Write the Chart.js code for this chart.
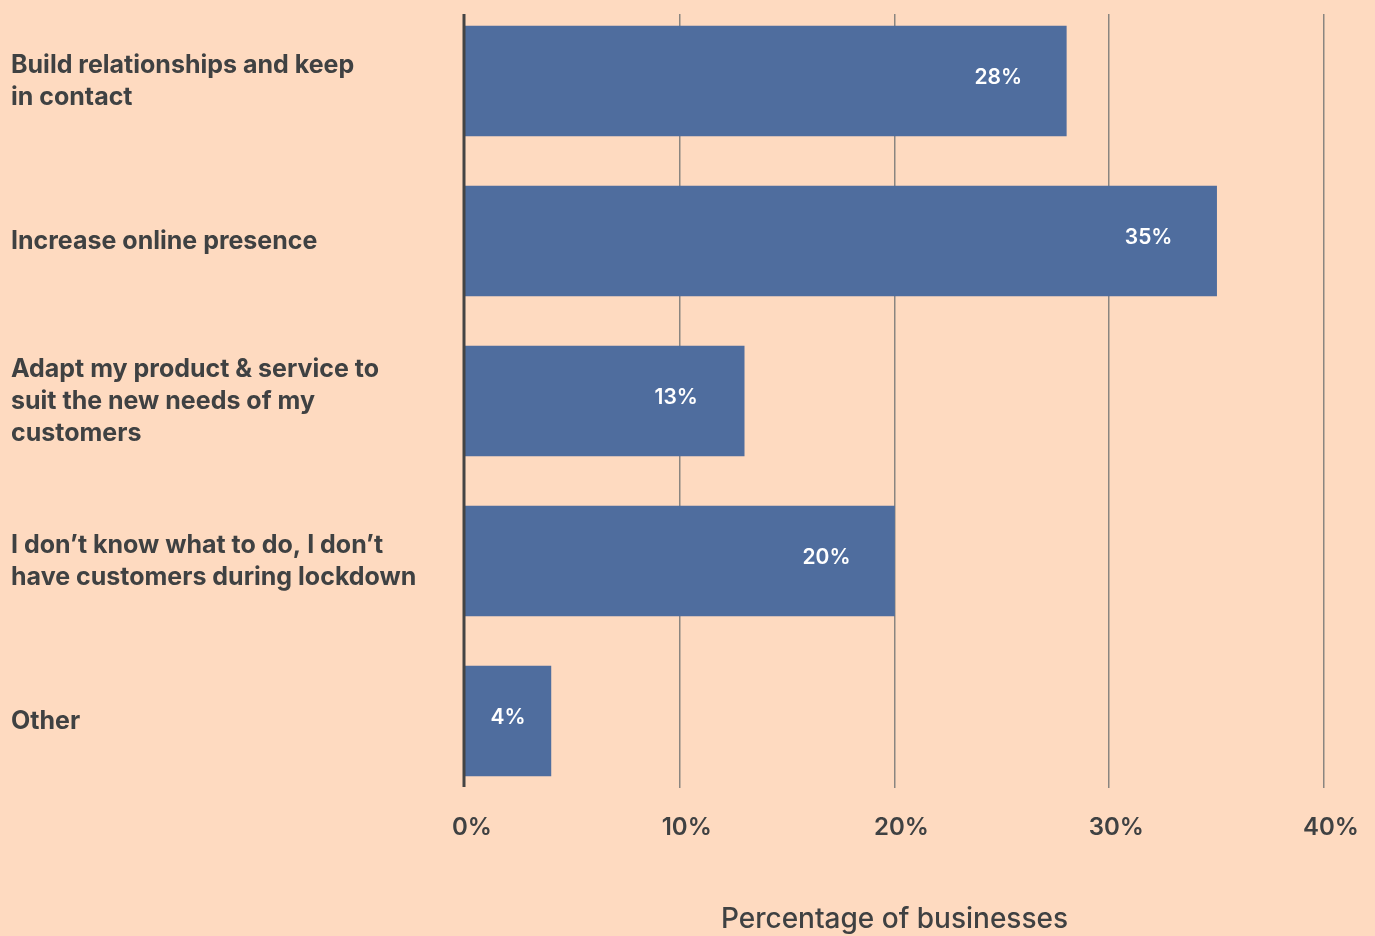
<!DOCTYPE html>
<html>
<head>
<meta charset="utf-8">
<script src="https://cdn.jsdelivr.net/npm/chart.js@4/dist/chart.umd.min.js"></script>
<style>
  html, body { margin: 0; padding: 0; background: #FEDAC0; }
  #wrap { width: 1375px; height: 936px; position: relative; }
</style>
</head>
<body>
<div id="wrap"><canvas id="c" width="1375" height="936"></canvas></div>
<script>
// Survey answers and their share of businesses (%)
const answers = [
  ["Build relationships and keep", "in contact"],
  ["Increase online presence"],
  ["Adapt my product & service to", "suit the new needs of my", "customers"],
  ["I don’t know what to do, I don’t", "have customers during lockdown"],
  ["Other"]
];
const shares = [28, 35, 13, 20, 4];
const percentTicks = [0, 10, 20, 30, 40];
const axisTitle = "Percentage of businesses";

const TEXT = "#3F4142";
const BAR = "#4F6D9E";
const FONT = "Inter, 'Open Sans', sans-serif";

// Vertical guide lines drawn from the x scale; the zero line sits on top of the bars
const guideLines = {
  id: "guideLines",
  beforeDatasetsDraw(chart) {
    const { ctx, chartArea: a, scales: { x } } = chart;
    ctx.save();
    ctx.strokeStyle = "#8A8580";
    ctx.lineWidth = 1.5;
    percentTicks.forEach(v => {
      if (v === 0) return;
      const px = Math.round(x.getPixelForValue(v)) - 0.25;
      ctx.beginPath();
      ctx.moveTo(px, a.top + 13);
      ctx.lineTo(px, a.bottom - 13);
      ctx.stroke();
    });
    ctx.restore();
  },
  afterDatasetsDraw(chart) {
    const { ctx, chartArea: a, scales: { x } } = chart;
    const px = x.getPixelForValue(0) - 1;
    ctx.save();
    ctx.strokeStyle = "#444444";
    ctx.lineWidth = 3;
    ctx.beginPath();
    ctx.moveTo(px, a.top + 13);
    ctx.lineTo(px, a.bottom - 14);
    ctx.stroke();
    ctx.restore();
  }
};

// White value labels inside each bar
const barValues = {
  id: "barValues",
  afterDatasetsDraw(chart) {
    const { ctx } = chart;
    const meta = chart.getDatasetMeta(0);
    ctx.save();
    ctx.fillStyle = "#FFFFFF";
    ctx.font = "600 21px " + FONT;
    ctx.textAlign = "center";
    ctx.textBaseline = "middle";
    meta.data.forEach((bar, i) => {
      const mid = bar.base + (bar.x - bar.base) / 2;
      const cx = Math.max(mid, bar.x - 68);
      ctx.fillText(shares[i] + "%", cx, bar.y - 3);
    });
    ctx.restore();
  }
};

new Chart(document.getElementById("c"), {
  type: "bar",
  data: {
    labels: answers,
    datasets: [{
      data: shares,
      backgroundColor: BAR,
      borderWidth: 0,
      barThickness: 110
    }]
  },
  options: {
    indexAxis: "y",
    responsive: false,
    animation: false,
    layout: { padding: { left: 11, right: 51, top: 1, bottom: 0 } },
    plugins: { legend: { display: false }, tooltip: { enabled: false } },
    scales: {
      x: {
        min: 0,
        max: 40,
        afterBuildTicks(scale) { scale.ticks = percentTicks.map(v => ({ value: v })); },
        afterFit(scale) { scale.height = 135; scale.paddingLeft = 0; scale.paddingRight = 0; },
        grid: { display: false, drawTicks: false },
        border: { display: false },
        ticks: {
          callback: v => v + "%",
          color: TEXT,
          font: { family: FONT, size: 24, weight: "600", lineHeight: 1.2 },
          padding: 12,
          labelOffset: 7,
          maxRotation: 0
        },
        title: {
          display: true,
          text: axisTitle,
          color: TEXT,
          font: { family: FONT, size: 28, weight: "500", lineHeight: 1.2 },
          padding: { top: 0, bottom: 0 }
        }
      },
      y: {
        afterFit(scale) { scale.width = 454; scale.paddingTop = 0; scale.paddingBottom = 0; },
        grid: { display: false, drawTicks: false },
        border: { display: false },
        ticks: {
          crossAlign: "far",
          color: TEXT,
          font: { family: FONT, size: 25, weight: "700", lineHeight: 1.28 },
          padding: 0
        }
      }
    }
  },
  plugins: [guideLines, barValues]
});
</script>
</body>
</html>
